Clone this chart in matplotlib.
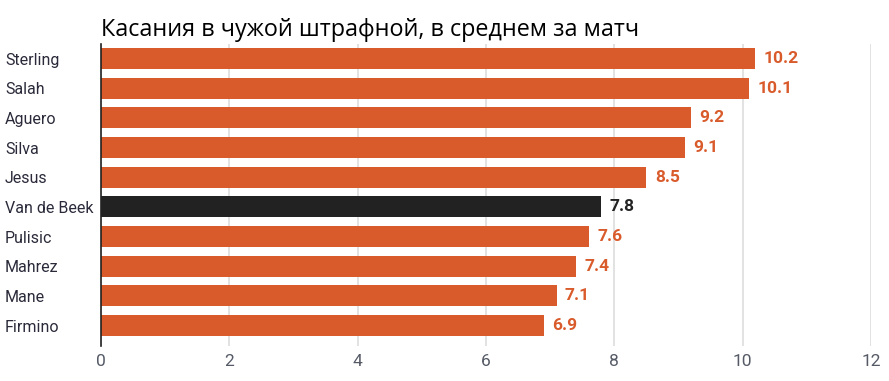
import matplotlib
matplotlib.use("Agg")
import matplotlib.pyplot as plt

players = ["Sterling", "Salah", "Aguero", "Silva", "Jesus", "Van de Beek",
           "Pulisic", "Mahrez", "Mane", "Firmino"]
values = [10.2, 10.1, 9.2, 9.1, 8.5, 7.8, 7.6, 7.4, 7.1, 6.9]
highlight = "Van de Beek"
title = "Касания в чужой штрафной, в среднем за матч"
xticks = [0, 2, 4, 6, 8, 10, 12]

ORANGE = "#D95B2C"
DARK = "#222222"
FONT = "Roboto"

fig = plt.figure(figsize=(8.89, 3.81), dpi=100)
ax = fig.add_axes([101/889, 1-346/381, 770/889, 302/381])

ypos = list(range(len(players)))
colors = [DARK if p == highlight else ORANGE for p in players]
ax.barh(ypos, values, height=0.71, color=colors, zorder=3)

for y, v, c in zip(ypos, values, colors):
    ax.text(v + 0.13, y, f"{v:g}", va="center", ha="left", color=c,
            fontsize=12.5, fontweight="bold", family=FONT)

ax.set_ylim(9.69, -0.49)
ax.set_xlim(0, 12)
ax.set_yticks(ypos)
ax.set_yticklabels(players, fontsize=11.5, family=FONT, color="#2a2a3a")
ax.set_xticks(xticks)
ax.set_xticklabels([str(t) for t in xticks], fontsize=12.5, family=FONT, color="#555a66")
ax.tick_params(axis="both", length=0)
ax.tick_params(axis="x", pad=6)
for lab in ax.get_yticklabels():
    lab.set_horizontalalignment("left")
ax.tick_params(axis="y", pad=96 * 72 / 100)

ax.grid(axis="x", color="#dddddd", linewidth=1.2, zorder=0)
for s in ["top", "right", "bottom"]:
    ax.spines[s].set_visible(False)
ax.spines["left"].set_color("#222222")
ax.spines["left"].set_linewidth(1.2)
ax.spines["left"].set_zorder(4)

fig.text(101/889, 1-30/381, title, fontsize=16.8, family="Open Sans",
         va="center", ha="left", color="#000000")

fig.savefig("out.png", dpi=100)
